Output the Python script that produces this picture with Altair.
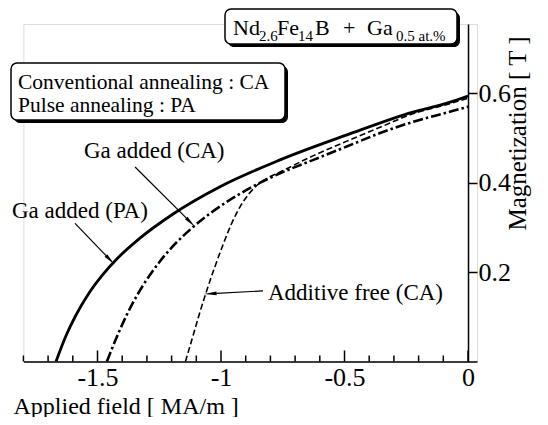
import math
import altair as alt
import pandas as pd

FONT = "'Liberation Serif', 'Times New Roman', Times, serif"

# ---- data ----
pa_x = [-1.668, -1.628, -1.587, -1.538, -1.482, -1.417, -1.328, -1.194, -1.004, -0.761, -0.490, -0.223, -0.085, 0.000]
pa_y = [0.000, 0.057, 0.104, 0.150, 0.192, 0.232, 0.276, 0.330, 0.391, 0.451, 0.507, 0.558, 0.578, 0.594]

ca_x = [-1.462, -1.421, -1.381, -1.340, -1.291, -1.243, -1.186, -1.121, -1.040, -0.960, -0.896, -0.761, -0.626, -0.491, -0.356, -0.223, -0.085, 0.000]
ca_y = [0.000, 0.056, 0.105, 0.148, 0.191, 0.227, 0.263, 0.297, 0.333, 0.363, 0.384, 0.421, 0.451, 0.481, 0.511, 0.536, 0.557, 0.570]

af_x = [-1.144, -1.113, -1.085, -1.057, -1.028, -0.996, -0.960, -0.923, -0.887, -0.850, -0.810, -0.761, -0.628, -0.490, -0.356, -0.223, -0.085, 0.000]
af_y = [0.000, 0.058, 0.111, 0.160, 0.207, 0.255, 0.305, 0.346, 0.375, 0.396, 0.411, 0.424, 0.460, 0.493, 0.524, 0.554, 0.575, 0.589]

x_major = [-1.5, -1.0, -0.5, 0.0]
x_minor = [-1.8, -1.7, -1.6, -1.4, -1.3, -1.2, -1.1, -0.9, -0.8, -0.7, -0.6, -0.4, -0.3, -0.2, -0.1]
y_ticks = [0.2, 0.4, 0.6]

# arrows: tail (x, y) -> tip (x, y) in data units
arrow_tail_x = [-1.591, -1.348, -0.830]
arrow_tail_y = [0.309, 0.435, 0.158]
arrow_tip_x = [-1.436, -1.110, -1.061]
arrow_tip_y = [0.220, 0.304, 0.151]

# ---- layout ----
W, H = 453.6, 337.5
XD = [-1.8, 0.0364]
YD = [0.0, 0.755]
kx = W / (XD[1] - XD[0])
ky = H / (YD[1] - YD[0])

curves = pd.concat([
    pd.DataFrame({"x": pa_x, "y": pa_y, "s": "pa"}),
    pd.DataFrame({"x": ca_x, "y": ca_y, "s": "ca"}),
    pd.DataFrame({"x": af_x, "y": af_y, "s": "af"}),
])

xs = alt.Scale(domain=XD, nice=False, zero=False)
ys = alt.Scale(domain=YD, nice=False, zero=False)

xaxis = alt.Axis(values=x_major, ticks=False, grid=False, domain=True, domainColor="black",
                 domainWidth=1.5, labelFont=FONT, labelFontSize=26, labelColor="black",
                 labelPadding=3, labelExpr="datum.value + ''", title="Applied field [ MA/m ]",
                 titleFont=FONT, titleFontSize=24, titleFontWeight="normal", titleColor="black",
                 titleAlign="left", titleAnchor="start", titleX=-10.4, titleY=51.5,
                 titleBaseline="alphabetic")
yaxis = alt.Axis(orient="right", offset=-9, values=y_ticks, grid=False, domain=True,
                 domainColor="black", domainWidth=1.5, ticks=True, tickColor="black",
                 tickWidth=1.5, tickSize=9, labelFont=FONT, labelFontSize=26, labelColor="black",
                 labelPadding=1, labelExpr="datum.value + ''", title="Magnetization [ T ]",
                 titleFont=FONT, titleFontSize=25, titleFontWeight="normal", titleColor="black",
                 titleAngle=270, titleX=49, titleY=109, titleAlign="center",
                 titleBaseline="middle")

base = alt.Chart(curves)


def curve(key, width, dash=None):
    kw = dict(color="black", strokeWidth=width, interpolate="monotone", clip=True)
    if dash:
        kw["strokeDash"] = dash
    return base.transform_filter(alt.datum.s == key).mark_line(**kw).encode(
        x=alt.X("x:Q", scale=xs, axis=xaxis),
        y=alt.Y("y:Q", scale=ys, axis=yaxis),
        order="x:Q",
    )


l_pa = curve("pa", 2.8)
l_ca = curve("ca", 2.6, [10, 3, 2.5, 3])
l_af = curve("af", 1.6, [6, 3])

maj = alt.Chart(pd.DataFrame({"v": x_major})).mark_rule(color="black", strokeWidth=1.5).encode(
    x=alt.X("v:Q", scale=xs), y=alt.value(H), y2=alt.value(H - 11))
mnr = alt.Chart(pd.DataFrame({"v": x_minor})).mark_rule(color="black", strokeWidth=1.5).encode(
    x=alt.X("v:Q", scale=xs), y=alt.value(H), y2=alt.value(H - 6))

# arrows
rows = []
for tx, ty, hx, hy in zip(arrow_tail_x, arrow_tail_y, arrow_tip_x, arrow_tip_y):
    dxp = (hx - tx) * kx
    dyp = -(hy - ty) * ky
    L = math.hypot(dxp, dyp)
    ux, uy = dxp / L, dyp / L
    ang = math.degrees(math.atan2(dxp, -dyp)) % 360
    back = 6.5
    rows.append({"tx": tx, "ty": ty,
                 "bx": hx - (back + 4) * ux / kx, "by": hy + (back + 4) * uy / ky,
                 "cx": hx - back * ux / kx, "cy": hy + back * uy / ky, "ang": ang})
arr = pd.DataFrame(rows)
a_line = alt.Chart(arr).mark_rule(color="black", strokeWidth=1.2).encode(
    x=alt.X("tx:Q", scale=xs), y=alt.Y("ty:Q", scale=ys), x2="bx:Q", y2="by:Q")
a_head = alt.Chart(arr).mark_point(shape="wedge", filled=True, color="black", opacity=1,
                                   size=210).encode(
    x=alt.X("cx:Q", scale=xs), y=alt.Y("cy:Q", scale=ys), angle=alt.Angle("ang:Q", scale=None))

one = pd.DataFrame({"a": [0]})
OX, OY = 23.4, 24.0  # plot origin on the page


def box(x1, y1, x2, y2):
    sh = alt.Chart(one).mark_rect(color="black", cornerRadius=6).encode(
        x=alt.value(x1 - OX + 3), x2=alt.value(x2 - OX + 3),
        y=alt.value(y1 - OY + 3), y2=alt.value(y2 - OY + 3))
    fr = alt.Chart(one).mark_rect(fill="white", stroke="black", strokeWidth=1.5,
                                  cornerRadius=6).encode(
        x=alt.value(x1 - OX), x2=alt.value(x2 - OX),
        y=alt.value(y1 - OY), y2=alt.value(y2 - OY))
    return [sh, fr]


def txt(s, x, y, size):
    return alt.Chart(one).mark_text(text=s, align="left", baseline="alphabetic", font=FONT,
                                    fontSize=size, color="black").encode(
        x=alt.value(x - OX), y=alt.value(y - OY))


layers = [l_af, l_ca, l_pa, maj, mnr, a_line, a_head]
layers += box(225, 9, 457, 44)
layers += [txt("Nd", 233, 35, 22), txt("2.6", 259, 41, 15), txt("Fe", 277, 35, 22),
           txt("14", 298, 41, 15), txt("B", 315, 35, 22), txt("+", 343, 35, 22),
           txt("Ga", 367, 35, 22), txt("0.5 at.%", 396, 41, 15)]
layers += box(11, 63, 285, 120)
layers += [txt("Conventional annealing : CA", 18, 89, 21.5), txt("Pulse annealing : PA", 18, 111.5, 21.5)]
layers += [txt("Ga added (PA)", 12, 218, 23), txt("Ga added (CA)", 84, 158, 23),
           txt("Additive free (CA)", 268, 300, 23)]

chart = alt.layer(*layers).properties(
    width=W, height=H,
    autosize=alt.AutoSizeParams(type="none"),
    padding={"left": 15.4, "top": 16, "right": 63, "bottom": 55.5},
).configure_view(stroke=None).configure(background="white")

chart.save("out.html", embed_options={"renderer": "svg", "actions": False})
